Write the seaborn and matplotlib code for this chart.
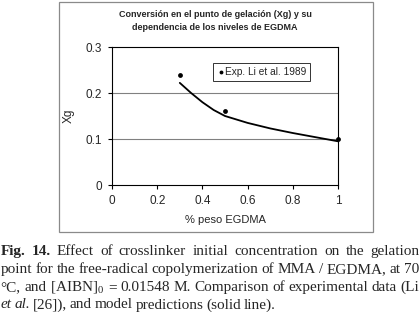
import matplotlib
matplotlib.use("Agg")
import matplotlib.pyplot as plt
from matplotlib.patches import Rectangle
import seaborn as sns
import pandas as pd

# experimental points (Li et al. 1989)
exp_x = [0.3, 0.5, 1.0]
exp_y = [0.24, 0.16, 0.10]

# model prediction (solid line)
model_x = [0.3, 0.35, 0.4, 0.45, 0.5, 0.6, 0.7, 0.8, 0.9, 1.0]
model_y = [0.222, 0.200, 0.180, 0.163, 0.150, 0.135, 0.123, 0.113, 0.104, 0.095]

x_ticks = [0, 0.2, 0.4, 0.6, 0.8, 1]
x_tick_labels = ["0", "0.2", "0.4", "0.6", "0.8", "1"]
y_ticks = [0, 0.1, 0.2, 0.3]
y_tick_labels = ["0", "0.1", "0.2", "0.3"]

title = "Conversión en el punto de gelación (Xg) y su\ndependencia de los niveles de EGDMA"
legend_label = "Exp. Li et al. 1989"

# caption lines: list of (word, style)
caption = [
    [("Fig.", "b"), ("14.", "b"), ("Effect", ""), ("of", ""), ("crosslinker", ""), ("initial", ""),
     ("concentration", ""), ("on", ""), ("the", ""), ("gelation", "")],
    [("point", ""), ("for", ""), ("the", ""), ("free-radical", ""), ("copolymerization", ""), ("of", ""),
     ("MMA", ""), ("/", ""), ("EGDMA,", ""), ("at", ""), ("70", "")],
    [("°C,", ""), ("and", ""), ("[AIBN]$_0$", ""), ("=", ""), ("0.01548", ""), ("M.", ""), ("Comparison", ""),
     ("of", ""), ("experimental", ""), ("data", ""), ("(Li", "")],
    [("et", "i"), ("al.", "i"), ("[26]),", ""), ("and", ""), ("model", ""), ("predictions", ""),
     ("(solid", ""), ("line).", "")],
]

sns.set_theme(style="white")
plt.rcParams["font.family"] = ["Liberation Sans", "DejaVu Sans"]
plt.rcParams["mathtext.fontset"] = "custom"
plt.rcParams["mathtext.rm"] = "Liberation Serif"

W, H = 420, 312
fig = plt.figure(figsize=(W / 100, H / 100), dpi=100)
fig.patch.set_facecolor("white")

# outer chart frame
fig.patches.append(Rectangle((59 / W, 1 - 232 / H), (373 - 59) / W, (232 - 2) / H,
                             transform=fig.transFigure, fill=False, edgecolor="#8a8a8a", lw=0.9))

ax = fig.add_axes([112 / W, 1 - 185 / H, (338 - 112) / W, (185 - 47) / H])

df_model = pd.DataFrame({"x": model_x, "y": model_y})
df_exp = pd.DataFrame({"x": exp_x, "y": exp_y})

for yv in [0.1, 0.2]:
    ax.axhline(yv, color="#808080", lw=0.8, zorder=0)

sns.lineplot(data=df_model, x="x", y="y", ax=ax, color="black", lw=1.3, zorder=3)
sns.scatterplot(data=df_exp, x="x", y="y", ax=ax, color="black", s=12, linewidth=0,
                label=legend_label, zorder=4, clip_on=False)

ax.set_xlim(0, 1)
ax.set_ylim(0, 0.3)
ax.set_xticks(x_ticks)
ax.set_xticklabels(x_tick_labels)
ax.set_yticks(y_ticks)
ax.set_yticklabels(y_tick_labels)
ax.tick_params(axis="both", direction="out", length=3, width=0.8, color="black",
               labelsize=8.5, pad=4, bottom=True, left=True)
for s in ax.spines.values():
    s.set_color("black")
    s.set_linewidth(0.8)
ax.set_xlabel("% peso EGDMA", fontsize=8, labelpad=6)
ax.set_ylabel("Xg", fontsize=8.5, labelpad=8)

leg = ax.legend(loc="upper left", bbox_to_anchor=(213 / W, 1 - 63 / H),
                bbox_transform=fig.transFigure, fontsize=7.3, frameon=True, fancybox=False,
                borderaxespad=0, handletextpad=0.05, handlelength=0.7, borderpad=0.4,
                markerscale=0.8)
leg.get_frame().set_edgecolor("black")
leg.get_frame().set_linewidth(0.7)

fig.text(215 / W, 1 - 21 / H, title, ha="center", va="center", fontsize=6.5,
         fontweight="bold", linespacing=1.6)

# justified caption
fig.canvas.draw()
renderer = fig.canvas.get_renderer()
baselines = [255, 273, 291, 308.5]
for i, words in enumerate(caption):
    arts = []
    for w, st in words:
        t = fig.text(0, 1 - baselines[i] / H, w, fontsize=11, va="baseline", ha="left",
                     family="Liberation Serif",
                     fontweight="bold" if st == "b" else "normal",
                     fontstyle="italic" if st == "i" else "normal")
        arts.append(t)
    widths = [a.get_window_extent(renderer).width for a in arts]
    if i < len(caption) - 1:
        gap = (W - 1 - sum(widths)) / (len(arts) - 1)
    else:
        gap = 2.8
    x = 0.5
    for a, wd in zip(arts, widths):
        a.set_x(x / W)
        x += wd + gap

fig.savefig("out.png", dpi=100)
